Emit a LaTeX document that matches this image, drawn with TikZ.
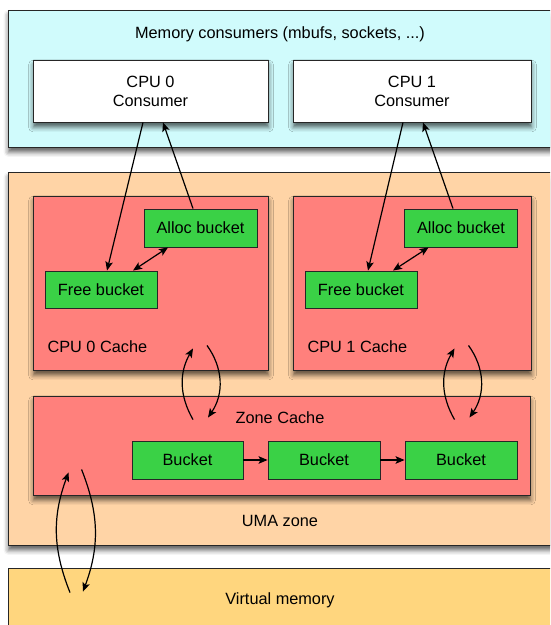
\documentclass[tikz,border=0pt]{standalone}
\usepackage{fontspec}
\setmainfont{Liberation Sans}
\usetikzlibrary{arrows.meta,shadows.blur}

\definecolor{consumerbg}{RGB}{208,251,252}
\definecolor{zonebg}{RGB}{255,212,166}
\definecolor{cachebg}{RGB}{255,128,124}
\definecolor{bucketbg}{RGB}{58,209,70}
\definecolor{vmbg}{RGB}{255,214,126}

\begin{document}
\begin{tikzpicture}[x=1pt,y=1pt,>={Stealth[length=9pt,width=7.5pt,inset=2pt]},
  every node/.style={font=\fontsize{16.3}{19}\selectfont},
  box/.style={rectangle,draw=black!85,line width=0.9pt,inner sep=0pt,align=center},
  shade box/.style={box,blur shadow={shadow xshift=0.5pt,shadow yshift=-5pt,shadow blur radius=5pt,shadow opacity=65}},
  bucket/.style={box,fill=bucketbg,minimum width=112pt,minimum height=38pt},
  link/.style={->,line width=1.2pt}]
  \useasboundingbox (0,0) rectangle (550,625);
  \clip (0,0) rectangle (550,625);
  % outer areas
  \node[shade box,fill=consumerbg,minimum width=552pt,minimum height=137pt] (mem) at (284,546.5) {};
  \node[shade box,fill=zonebg,minimum width=552pt,minimum height=373pt] (uma) at (284,266.5) {};
  \node[box,fill=vmbg,minimum width=552pt,minimum height=72pt] (vm) at (284,21) {};
  \node (memtxt) at (280,591) {Memory consumers (mbufs, sockets, ...)};
  \node (umatxt) at (280,104) {UMA zone};
  \node (vmtxt) at (280,25) {Virtual memory};
  % consumers
  \node[shade box,fill=white,minimum width=235pt,minimum height=62pt] (cons0) at (150.5,534) {CPU 0\\Consumer};
  \node[shade box,fill=white,minimum width=238pt,minimum height=62pt] (cons1) at (412,534) {CPU 1\\Consumer};
  % per-cpu caches
  \node[shade box,fill=cachebg,minimum width=235pt,minimum height=174pt] (cache0) at (150.5,342) {};
  \node[shade box,fill=cachebg,minimum width=238pt,minimum height=174pt] (cache1) at (412,342) {};
  \node[anchor=west] (cache0txt) at (44,278) {CPU 0 Cache};
  \node[anchor=west] (cache1txt) at (304,278) {CPU 1 Cache};
  \node[bucket,minimum width=113pt] (alloc0) at (200.5,397) {Alloc bucket};
  \node[bucket,minimum height=37pt] (free0) at (101,335.5) {Free bucket};
  \node[bucket,minimum width=113pt] (alloc1) at (461,397) {Alloc bucket};
  \node[bucket,minimum height=37pt] (free1) at (361,335.5) {Free bucket};
  % zone cache
  \node[shade box,fill=cachebg,minimum width=497pt,minimum height=99pt] (zone) at (281.5,179.5) {};
  \node (zonetxt) at (280,207) {Zone Cache};
  \node[bucket,minimum width=111pt] (bk1) at (187.5,165) {Bucket};
  \node[bucket] (bk2) at (324,165) {Bucket};
  \node[bucket] (bk3) at (461,165) {Bucket};
  % connectors
  \draw[link] ([xshift=-7.5pt]cons0.south) -- ([xshift=6pt]free0.north);
  \draw[link] ([xshift=-7.5pt]alloc0.north) -- ([xshift=12.5pt]cons0.south);
  \draw[<->,line width=1.2pt] ([xshift=32pt]free0.north) -- ([xshift=-32.5pt]alloc0.south);
  \draw[link] ([xshift=-9pt]cons1.south) -- ([xshift=7pt]free1.north);
  \draw[link] ([xshift=-8pt]alloc1.north) -- ([xshift=11pt]cons1.south);
  \draw[<->,line width=1.2pt] ([xshift=32pt]free1.north) -- ([xshift=-32.5pt]alloc1.south);
  \draw[link] (bk1.east) -- (bk2.west);
  \draw[link] (bk2.east) -- (bk3.west);
  \draw[link] ([shift={(-88.5,-24)}]zone.north) to[bend left=30] ([shift={(42.5,22)}]cache0.south);
  \draw[link] ([shift={(56.5,25)}]cache0.south) to[bend left=35] ([shift={(-73.5,-22)}]zone.north);
  \draw[link] ([shift={(173,-24)}]zone.north) to[bend left=30] ([shift={(42.5,22)}]cache1.south);
  \draw[link] ([shift={(56.5,25)}]cache1.south) to[bend left=35] ([shift={(188,-22)}]zone.north);
  \draw[link] ([shift={(-214,-25)}]vm.north) to[bend left=21] ([shift={(36,23)}]zone.south west);
  \draw[link] ([shift={(49,26)}]zone.south west) to[bend left=21] ([shift={(-201,-24)}]vm.north);
\end{tikzpicture}
\end{document}
